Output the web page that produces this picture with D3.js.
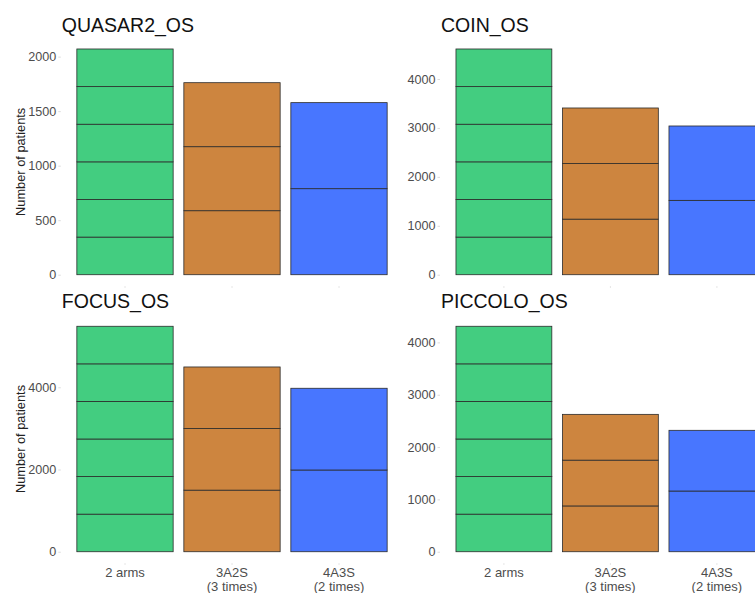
<!DOCTYPE html>
<html>
<head>
<meta charset="utf-8">
<script src="https://cdn.jsdelivr.net/npm/d3@7"></script>
<style>
  body { margin: 0; background: #fff; }
  svg { display: block; }
  text { font-family: "Liberation Sans", Arial, sans-serif; }
</style>
</head>
<body>
<svg id="chart" width="755" height="593"></svg>
<script>
// ---- Data ----
const categories = ["2 arms", "3A2S\n(3 times)", "4A3S\n(2 times)"];
const colors = ["#43CD80", "#CD853F", "#4876FF"];
const panelTitles = ["QUASAR2_OS", "COIN_OS", "FOCUS_OS", "PICCOLO_OS"];
// Each bar is stacked from equal segments (segment value, count)
const quasarSegments = [[345, 6], [587, 3], [789, 2]];
const coinSegments   = [[769, 6], [1136, 3], [1520, 2]];
const focusSegments  = [[914, 6], [1498, 3], [1988, 2]];
const piccoloSegments = [[718, 6], [875, 3], [1160, 2]];
const yTicksQuasar = [0, 500, 1000, 1500, 2000];
const yTicksCoin = [0, 1000, 2000, 3000, 4000];
const yTicksFocus = [0, 2000, 4000];
const yTicksPiccolo = [0, 1000, 2000, 3000, 4000];
const yLabel = "Number of patients";

const panels = [
  {title: panelTitles[0], segs: quasarSegments, ticks: yTicksQuasar, x0: 60.8, x1: 403.2, top: 37.7, bottom: 286, titleY: 31.5, ylab: true, xlab: false},
  {title: panelTitles[1], segs: coinSegments, ticks: yTicksCoin, x0: 440, x1: 780.8, top: 37.7, bottom: 286, titleY: 31.5, ylab: false, xlab: false},
  {title: panelTitles[2], segs: focusSegments, ticks: yTicksFocus, x0: 60.8, x1: 403.2, top: 315, bottom: 563, titleY: 307.5, ylab: true, xlab: true},
  {title: panelTitles[3], segs: piccoloSegments, ticks: yTicksPiccolo, x0: 440, x1: 780.8, top: 315, bottom: 563, titleY: 307.5, ylab: false, xlab: true}
];

const svg = d3.select("#chart");

panels.forEach(p => {
  const g = svg.append("g");
  const totals = p.segs.map(s => s[0] * s[1]);
  const maxV = d3.max(totals);
  const y = d3.scaleLinear().domain([-0.05 * maxV, 1.05 * maxV]).range([p.bottom, p.top]);
  const x = d3.scaleBand().domain(categories).range([p.x0, p.x1]).paddingInner(0.1).paddingOuter(0.15);

  // title
  g.append("text").attr("x", p.x0 + 1).attr("y", p.titleY)
    .attr("font-size", 19.5).attr("fill", "#111").text(p.title);

  // y axis
  const yAxis = d3.axisLeft(y).tickValues(p.ticks).tickSize(2.5).tickPadding(2).tickFormat(d3.format("d"));
  const ya = g.append("g").attr("transform", `translate(${p.x0},0)`).call(yAxis);
  ya.select(".domain").remove();
  ya.selectAll(".tick line").attr("stroke", "#ddd");
  ya.selectAll(".tick text").attr("font-size", 12.6).attr("fill", "#4d4d4d")
    .attr("font-family", "Liberation Sans, Arial, sans-serif");

  // x axis
  const xAxis = d3.axisBottom(x).tickSize(2).tickPadding(10).tickFormat(() => "");
  const xa = g.append("g").attr("transform", `translate(0,${p.bottom})`).call(xAxis);
  xa.select(".domain").remove();
  xa.selectAll(".tick line").attr("stroke", "#e6e6e6");
  if (p.xlab) {
    xa.selectAll(".tick").each(function(d) {
      const lines = d.split("\n");
      const t = d3.select(this).append("text").attr("fill", "#4d4d4d").attr("font-size", 13)
        .attr("text-anchor", "middle").attr("y", 13.8)
        .attr("font-family", "Liberation Sans, Arial, sans-serif");
      lines.forEach((ln, i) => t.append("tspan").attr("x", 0).attr("dy", i === 0 ? 0 : 14.6).text(ln));
    });
  }

  // bars (stacked equal segments)
  p.segs.forEach((s, ci) => {
    const [val, n] = s;
    const cat = categories[ci];
    const segData = d3.range(n).map(k => ({lo: k * val, hi: (k + 1) * val}));
    g.selectAll(null).data(segData).enter().append("rect")
      .attr("x", x(cat)).attr("width", x.bandwidth())
      .attr("y", d => y(d.hi)).attr("height", d => y(d.lo) - y(d.hi))
      .attr("fill", colors[ci]).attr("stroke", "#2b2b2b").attr("stroke-width", 0.8);
  });

  if (p.ylab) {
    const cy = (p.top + p.bottom) / 2;
    g.append("text").attr("transform", `translate(20,${cy}) rotate(-90)`)
      .attr("text-anchor", "middle").attr("dominant-baseline", "central")
      .attr("font-size", 12.8).attr("fill", "#222").text(yLabel);
  }
});
</script>
</body>
</html>
